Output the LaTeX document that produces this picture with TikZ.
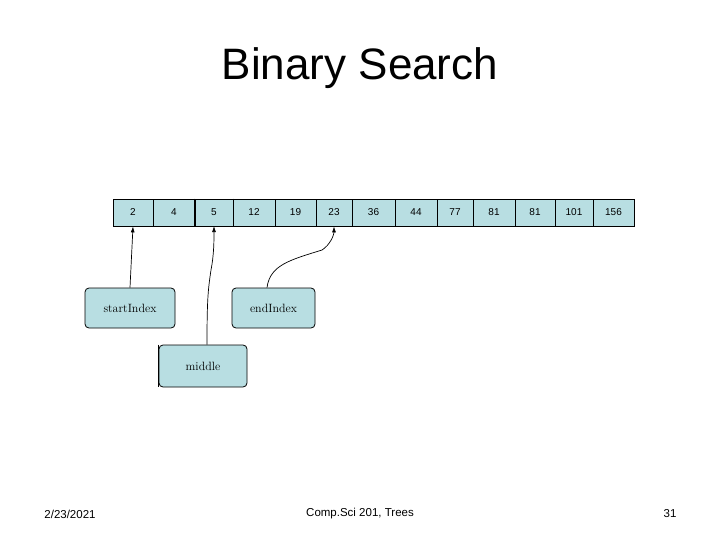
\documentclass[tikz,border=0pt]{standalone}
\usepackage{fontspec}
\setsansfont{Liberation Sans}
\usetikzlibrary{arrows.meta}
\definecolor{cellc}{RGB}{184,222,226}
\begin{document}
\begin{tikzpicture}[x=1pt,y=-1pt,
  cell/.style={draw=black,fill=cellc,line width=0.8pt,minimum height=27pt,inner sep=0pt,font=\sffamily\fontsize{10}{11}\selectfont},
  lbl/.style={draw=black,fill=cellc,rounded corners=4pt,line width=0.8pt,inner sep=0pt,font=\rmfamily\fontsize{12}{13}\selectfont},
  ptr/.style={-{Latex[length=6pt,width=4pt]},line width=0.7pt},
  foot/.style={font=\sffamily\fontsize{11.5}{13}\selectfont}]
\useasboundingbox (0,0) rectangle (720,540);
\node[font=\sffamily\fontsize{44}{48}\selectfont] (title) at (360,68) {Binary Search};
\foreach \a/\b/\t [count=\i] in {113/153/2,153/195/4,195/233/5,233/275/12,275/316/19,316/352/23,352/395/36,395/437/44,437/473/77,473/515/81,515/555/81,555/593/101,593/634/156}{
  \node[cell,minimum width={\b-\a}] (c\i) at ({(\a+\b)/2},212.5) {\t};
}
\draw[line width=1.5pt] (c3.north west) -- (c3.south west) (c3.north east) -- (c3.south east);
\node[lbl,minimum width=90pt,minimum height=40pt] (s) at (130,308) {startIndex};
\node[lbl,minimum width=83pt,minimum height=40pt] (e) at (273.5,308) {endIndex};
\node[lbl,minimum width=88pt,minimum height=42pt] (m) at (203,366) {middle};
\draw[line width=1.5pt] (m.north west) -- (m.south west);
\draw[ptr] (s.north -| 130,0) -- (c1.south);
\draw[ptr] (m.north -| 207,0) .. controls (207,300) and (208,290) .. (211,270) .. controls (214,255) and (214,240) .. (214,226);
\draw[ptr] (e.north -| 267,0) .. controls (270,265) and (290,260) .. (322,250) .. controls (330,245) and (334,235) .. (c6.south);
\node[foot] (d) at (70,514) {2/23/2021};
\node[foot] (f) at (360,514) {Comp.Sci 201, Trees};
\node[foot] (p) at (670,514) {31};
\end{tikzpicture}
\end{document}
